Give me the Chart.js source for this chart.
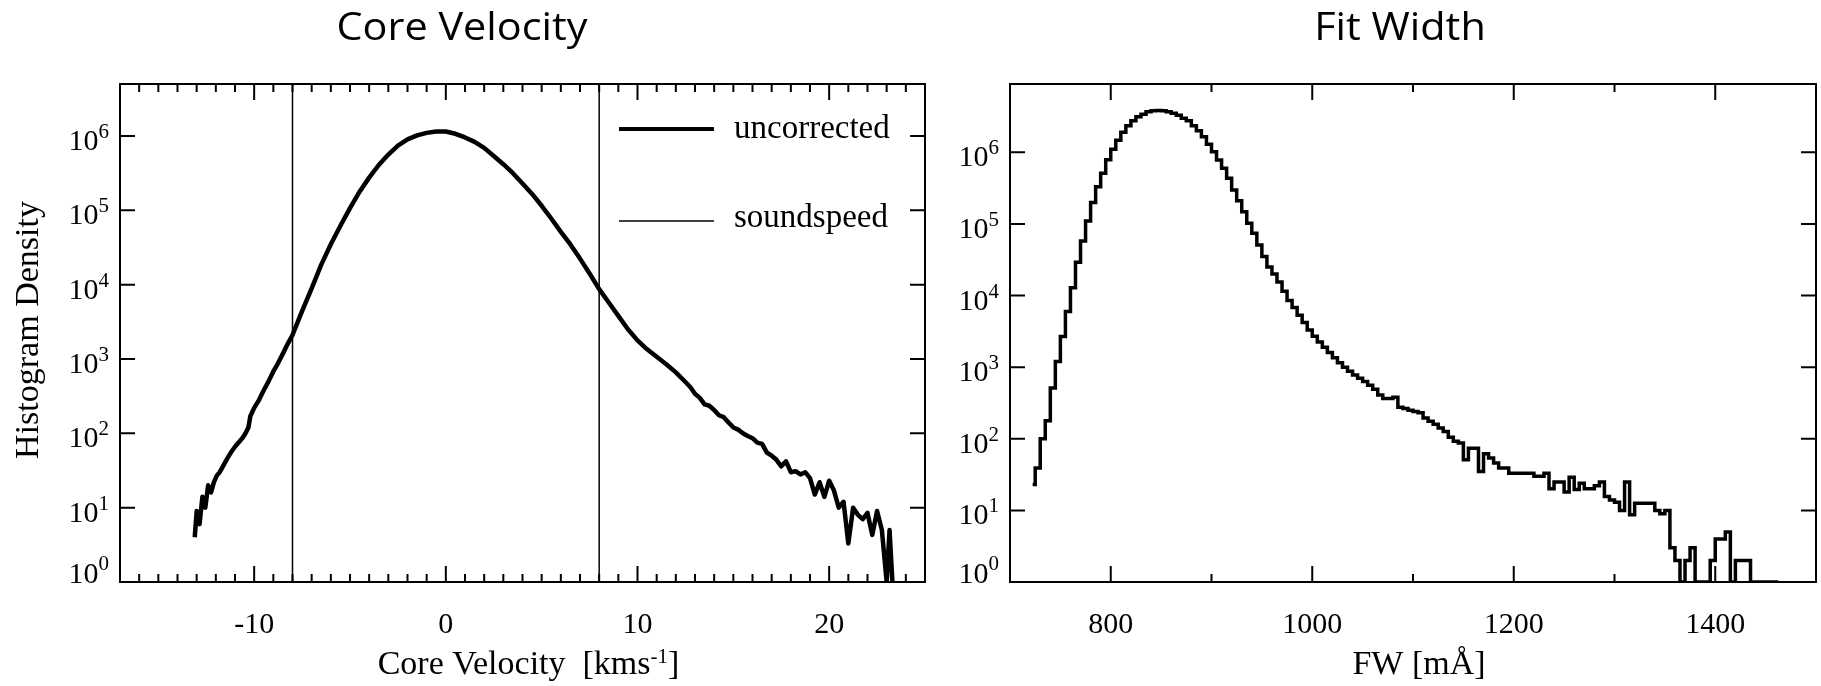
<!DOCTYPE html>
<html>
<head>
<meta charset="utf-8">
<script src="https://cdn.jsdelivr.net/npm/chart.js@4.4.1/dist/chart.umd.min.js"></script>
<style>
  html, body { margin: 0; padding: 0; background: #fff; }
  #wrap { position: relative; width: 1821px; height: 686px; overflow: hidden; }
  canvas { position: absolute; top: 0; }
  #cv { left: 0; }
  #fw { left: 940px; }
</style>
</head>
<body>
<div id="wrap">
  <canvas id="cv" width="940" height="686"></canvas>
  <canvas id="fw" width="881" height="686"></canvas>
</div>
<script>
'use strict';

// ── Data: core velocity histogram (km/s vs density) ──────────────────────────
const velocityBins = [
  -13.1, -13.0, -12.85, -12.7, -12.55, -12.4, -12.25, -12.1, -11.95, -11.8,
  -11.6, -11.4, -11.2, -11.0, -10.8, -10.6, -10.45, -10.3, -10.2, -10.0,
  -9.75, -9.5, -9.25, -9.0, -8.75, -8.5, -8.25, -8.0, -7.5, -7.0,
  -6.5, -6.0, -5.5, -5.0, -4.5, -4.0, -3.5, -3.0, -2.5, -2.0,
  -1.5, -1.0, -0.5, 0.0, 0.5, 1.0, 1.5, 2.0, 2.5, 3.0,
  3.5, 4.0, 4.5, 5.0, 5.5, 6.0, 6.5, 7.0, 7.5, 8.0,
  8.5, 9.0, 9.5, 10.0, 10.5, 11.0, 11.5, 12.0, 12.5, 12.75,
  13.0, 13.25, 13.5, 13.75, 14.0, 14.25, 14.5, 14.75, 15.0, 15.25,
  15.5, 15.75, 16.0, 16.25, 16.5, 16.75, 17.0, 17.25, 17.5, 17.75,
  18.0, 18.25, 18.5, 18.75, 19.0, 19.25, 19.5, 19.75, 20.0, 20.25,
  20.5, 20.75, 21.0, 21.25, 21.5, 21.75, 22.0, 22.25, 22.5, 22.75,
  23.0, 23.15, 23.3
];
const velocityDensity = [
  4, 9, 6, 14, 10, 20, 16, 22, 27, 30,
  37, 46, 56, 66, 76, 87, 100, 120, 170, 220,
  280, 380, 500, 680, 880, 1180, 1600, 2100, 4400, 8900,
  18600, 35000, 62000, 107000, 178000, 275000, 407000, 562000, 741000, 900000,
  1020000, 1100000, 1150000, 1150000, 1070000, 955000, 832000, 692000, 537000, 417000,
  316000, 229000, 166000, 115000, 77600, 51300, 34700, 22400, 14100, 8700,
  5750, 3800, 2510, 1780, 1350, 1070, 850, 660, 490, 420,
  340, 300, 245, 235, 205, 175, 165, 140, 120, 112,
  100, 92, 86, 75, 72, 55, 50, 44, 36, 42,
  30, 31, 28, 30, 25, 15, 22, 14, 23, 17,
  10, 12, 3.3, 10, 8, 7, 8.5, 4.3, 9, 5,
  1, 5, 1
];
const soundspeed = [-8, 8];

// ── Data: fit width histogram (mÅ, 5 mÅ bins) ────────────────────────────────
const widthBins = [
  722.5, 727.5, 732.5, 737.5, 742.5, 747.5, 752.5, 757.5, 762.5, 767.5,
  772.5, 777.5, 782.5, 787.5, 792.5, 797.5, 802.5, 807.5, 812.5, 817.5,
  822.5, 827.5, 832.5, 837.5, 842.5, 847.5, 852.5, 857.5, 862.5, 867.5,
  872.5, 877.5, 882.5, 887.5, 892.5, 897.5, 902.5, 907.5, 912.5, 917.5,
  922.5, 927.5, 932.5, 937.5, 942.5, 947.5, 952.5, 957.5, 962.5, 967.5,
  972.5, 977.5, 982.5, 987.5, 992.5, 997.5, 1002.5, 1007.5, 1012.5, 1017.5,
  1022.5, 1027.5, 1032.5, 1037.5, 1042.5, 1047.5, 1052.5, 1057.5, 1062.5, 1067.5,
  1072.5, 1077.5, 1082.5, 1087.5, 1092.5, 1097.5, 1102.5, 1107.5, 1112.5, 1117.5,
  1122.5, 1127.5, 1132.5, 1137.5, 1142.5, 1147.5, 1152.5, 1157.5, 1162.5, 1167.5,
  1172.5, 1177.5, 1182.5, 1187.5, 1192.5, 1197.5, 1202.5, 1207.5, 1212.5, 1217.5,
  1222.5, 1227.5, 1232.5, 1237.5, 1242.5, 1247.5, 1252.5, 1257.5, 1262.5, 1267.5,
  1272.5, 1277.5, 1282.5, 1287.5, 1292.5, 1297.5, 1302.5, 1307.5, 1312.5, 1317.5,
  1322.5, 1327.5, 1332.5, 1337.5, 1342.5, 1347.5, 1352.5, 1357.5, 1362.5, 1367.5,
  1372.5, 1377.5, 1382.5, 1387.5, 1392.5, 1397.5, 1402.5, 1407.5, 1412.5, 1417.5,
  1422.5, 1427.5, 1432.5, 1437.5, 1442.5, 1447.5, 1452.5, 1457.5, 1462.5
];
const widthDensity = [
  23, 39, 100, 178, 510, 1200, 2680, 6000, 12900, 29200,
  57800, 110000, 200000, 330000, 510000, 790000, 1100000, 1480000, 1900000, 2350000,
  2760000, 3150000, 3400000, 3700000, 3800000, 3850000, 3800000, 3700000, 3500000, 3300000,
  3000000, 2750000, 2350000, 2000000, 1650000, 1300000, 1020000, 780000, 600000, 435000,
  297000, 210000, 148000, 102000, 74000, 51000, 35000, 25000, 20000, 15500,
  11500, 8500, 6800, 5300, 4200, 3300, 2700, 2250, 1900, 1600,
  1350, 1150, 1000, 880, 780, 700, 630, 560, 490, 410,
  365, 365, 380, 275, 265, 250, 240, 230, 195, 175,
  160, 141, 126, 105, 92, 87, 51, 74, 74, 35,
  62, 54, 46, 39, 39, 33, 33, 33, 33, 33,
  30, 30, 33, 20, 25, 25, 18, 29, 19.5, 24,
  20, 20, 22, 25, 15.6, 14, 13, 10, 25, 8.7,
  12.6, 12.6, 12.6, 12.6, 10, 9, 10, 3, 2, 1,
  2, 3, 1, 1, 1, 2, 4, 4, 5, 1,
  2, 2, 2, 1, 1, 1, 1, 1, 1
];

// ── Ticks ────────────────────────────────────────────────────────────────────
const decadeTicks = [1, 10, 100, 1e3, 1e4, 1e5, 1e6];
const decadeExps  = ['0', '1', '2', '3', '4', '5', '6'];
const velocityMajor  = [-10, 0, 10, 20];
const velocityLabels = ['-10', '0', '10', '20'];
const velocityMinor  = [-16, -15, -14, -13, -12, -11, -9, -8, -7, -6, -5, -4, -3, -2, -1,
                        1, 2, 3, 4, 5, 6, 7, 8, 9, 11, 12, 13, 14, 15, 16, 17, 18, 19,
                        21, 22, 23, 24];
const widthMajor  = [800, 1000, 1200, 1400];
const widthLabels = ['800', '1000', '1200', '1400'];
const widthMinor  = [900, 1100, 1300];

const SERIF = '"Liberation Serif", "Times New Roman", serif';
const SANS  = '"Open Sans", sans-serif';

// ── Frame / ticks / labels drawn through the chart scales ────────────────────
function framePlugin(cfg) {
  return {
    id: 'frame',
    afterDatasetsDraw(chart) {
      const ctx = chart.ctx, a = chart.chartArea;
      const xs = chart.scales.x, ys = chart.scales.y;
      ctx.save();
      ctx.strokeStyle = '#000';
      ctx.fillStyle = '#000';
      ctx.lineWidth = 2;
      ctx.strokeRect(a.left, a.top, a.right - a.left, a.bottom - a.top);

      ctx.beginPath();
      const xt = (v, len) => {
        const p = xs.getPixelForValue(v);
        ctx.moveTo(p, a.bottom); ctx.lineTo(p, a.bottom - len);
        ctx.moveTo(p, a.top);    ctx.lineTo(p, a.top + len);
      };
      cfg.xMinor.forEach(v => xt(v, cfg.minorLen));
      cfg.xMajor.forEach(v => xt(v, cfg.majorLen));
      decadeTicks.forEach(v => {
        const p = ys.getPixelForValue(v);
        ctx.moveTo(a.left, p);  ctx.lineTo(a.left + 15, p);
        ctx.moveTo(a.right, p); ctx.lineTo(a.right - 15, p);
      });
      ctx.stroke();

      // x tick labels
      ctx.font = '30px ' + SERIF;
      ctx.textAlign = 'center';
      ctx.textBaseline = 'alphabetic';
      cfg.xMajor.forEach((v, i) => ctx.fillText(cfg.xLabels[i], xs.getPixelForValue(v), 633));

      // y tick labels 10^n
      ctx.textAlign = 'left';
      decadeTicks.forEach((v, i) => {
        const p = ys.getPixelForValue(v);
        const low = i === 0;
        ctx.font = '21px ' + SERIF;
        const we = ctx.measureText(decadeExps[i]).width;
        ctx.font = '30px ' + SERIF;
        const wb = ctx.measureText('10').width;
        const right = a.left - 11;
        ctx.fillText('10', right - we - wb, low ? p + 1 : p + 14);
        ctx.font = '21px ' + SERIF;
        ctx.fillText(decadeExps[i], right - we, low ? p - 12 : p + 2);
      });

      // x axis title (pieces, some raised)
      let total = 0;
      cfg.xTitle.forEach(part => {
        ctx.font = part.size + 'px ' + SERIF;
        part.w = ctx.measureText(part.t).width;
        total += part.w;
      });
      let x = (a.left + a.right) / 2 - total / 2 + 6;
      cfg.xTitle.forEach(part => {
        ctx.font = part.size + 'px ' + SERIF;
        ctx.fillText(part.t, x, 674 - (part.up || 0));
        x += part.w;
      });

      // y axis title
      if (cfg.yTitle) {
        ctx.save();
        ctx.translate(38, 330);
        ctx.rotate(-Math.PI / 2);
        ctx.textAlign = 'center';
        ctx.font = '34px ' + SERIF;
        ctx.fillText(cfg.yTitle, 0, 0);
        ctx.restore();
      }

      // legend
      (cfg.legend || []).forEach(item => {
        ctx.beginPath();
        ctx.lineWidth = item.width;
        ctx.moveTo(item.x0, item.y); ctx.lineTo(item.x1, item.y);
        ctx.stroke();
        ctx.font = '33px ' + SERIF;
        ctx.textAlign = 'left';
        ctx.fillText(item.label, item.tx, item.base);
      });

      // panel title
      ctx.save();
      ctx.translate(cfg.titleX, 40);
      ctx.scale(1.09, 1);
      ctx.font = '38px ' + SANS;
      ctx.textAlign = 'center';
      ctx.fillText(cfg.title, 0, 0);
      ctx.restore();

      ctx.restore();
    }
  };
}

function baseOptions(xmin, xmax, ymax, pad) {
  return {
    responsive: false,
    animation: false,
    events: [],
    layout: { padding: pad },
    plugins: { legend: { display: false }, tooltip: { enabled: false } },
    scales: {
      x: { type: 'linear', min: xmin, max: xmax, display: false },
      y: { type: 'logarithmic', min: 1, max: ymax, display: false }
    },
    elements: { point: { radius: 0 }, line: { tension: 0 } }
  };
}

// ── Core velocity panel ──────────────────────────────────────────────────────
const soundLines = soundspeed.map(v => ({
  data: [{ x: v, y: 1 }, { x: v, y: 5e6 }],
  borderColor: '#000', borderWidth: 1.5, fill: false
}));

new Chart(document.getElementById('cv'), {
  type: 'line',
  data: {
    datasets: [{
      data: velocityBins.map((v, i) => ({ x: v, y: velocityDensity[i] })),
      borderColor: '#000', borderWidth: 4.5, fill: false,
      borderJoinStyle: 'round', borderCapStyle: 'butt'
    }].concat(soundLines)
  },
  options: baseOptions(-17, 25, 5e6, { left: 120, top: 84, right: 15, bottom: 104 }),
  plugins: [framePlugin({
    xMajor: velocityMajor, xLabels: velocityLabels, xMinor: velocityMinor,
    majorLen: 16, minorLen: 8,
    xTitle: [{ t: 'Core Velocity  [kms', size: 34 }, { t: '-1', size: 21, up: 11 }, { t: ']', size: 34 }],
    yTitle: 'Histogram Density',
    title: 'Core Velocity', titleX: 462,
    legend: [
      { label: 'uncorrected', width: 4,   x0: 619, x1: 714, y: 129, tx: 734, base: 138 },
      { label: 'soundspeed',  width: 1.5, x0: 619, x1: 714, y: 221, tx: 734, base: 227 }
    ]
  })]
});

// ── Fit width panel ──────────────────────────────────────────────────────────
new Chart(document.getElementById('fw'), {
  type: 'line',
  data: {
    datasets: [{
      data: widthBins.map((v, i) => ({ x: v, y: widthDensity[i] })),
      borderColor: '#000', borderWidth: 3.5, fill: false,
      stepped: 'middle', borderJoinStyle: 'miter'
    }]
  },
  options: baseOptions(700, 1500, 9e6, { left: 70, top: 84, right: 5, bottom: 104 }),
  plugins: [framePlugin({
    xMajor: widthMajor, xLabels: widthLabels, xMinor: widthMinor,
    majorLen: 16, minorLen: 8,
    xTitle: [{ t: 'FW [mÅ]', size: 34 }],
    title: 'Fit Width', titleX: 460
  })]
});
</script>
</body>
</html>
